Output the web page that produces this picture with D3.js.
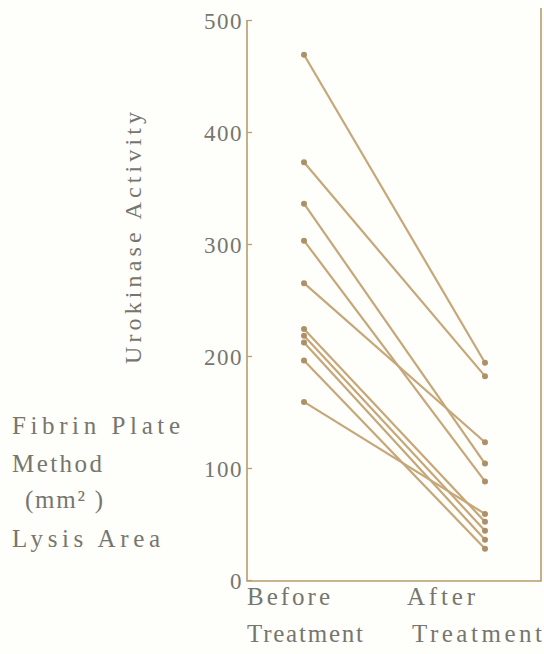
<!DOCTYPE html>
<html>
<head>
<meta charset="utf-8">
<script src="https://cdn.jsdelivr.net/npm/d3@7"></script>
<style>
  html, body { margin: 0; padding: 0; background: #fefefa; }
  svg { display: block; }
  text { font-family: "Liberation Serif", "DejaVu Serif", serif; fill: #76766e; }
</style>
</head>
<body>
<svg id="chart" width="544" height="654"></svg>
<script>
// Urokinase activity (fibrin plate lysis area, mm²) per patient, before and after treatment
const phases = ["Before", "After"];
const phaseLabels = [["Before", "Treatment"], ["After", "Treatment"]];
const beforeValues = [469, 373, 336, 303, 265, 224, 218, 212, 196, 159];
const afterValues  = [194, 182, 104,  88, 123,  52,  44,  36,  28,  59];
const yTicks = [0, 100, 200, 300, 400, 500];
const sideLabel = ["Fibrin Plate", "Method", "(mm\u00B2 )", "Lysis Area"];
const axisTitle = "Urokinase Activity";

const pairs = beforeValues.map((b, i) => ({ before: b, after: afterValues[i] }));

const svg = d3.select("#chart");
const lineColor = "#c6a77a";
const dotColor = "#ad9068";
const axisColor = "#b99b6c";

const x = d3.scalePoint().domain(phases).range([304, 485]);
const y = d3.scaleLinear().domain([0, 500]).range([580, 20]);

// frame: left axis, baseline and right border
const left = 247, right = 541, bottom = y(0) + 1;
svg.append("path")
  .attr("d", `M${left},${y(500)}V${bottom}H${right}V8`)
  .attr("fill", "none").attr("stroke", axisColor).attr("stroke-width", 1.6);

// y axis: ticks point into the plot, labels to the left
const yAxis = d3.axisRight(y).tickValues(yTicks).tickSize(5).tickSizeOuter(0).tickFormat(d3.format("d"));
const gy = svg.append("g").attr("transform", `translate(${left},0)`).call(yAxis);
gy.select(".domain").remove();
gy.selectAll(".tick line").attr("stroke", axisColor).attr("stroke-width", 1.2);
gy.selectAll(".tick text")
  .attr("x", -4).attr("dy", "0.36em")
  .attr("text-anchor", "end")
  .attr("fill", "#76766e")
  .style("font-size", "23px")
  .style("font-family", "\"Liberation Serif\", serif")
  .style("letter-spacing", "1.5px");

// rotated axis title
svg.append("text")
  .attr("transform", `translate(141,238) rotate(-90)`)
  .attr("text-anchor", "middle")
  .style("font-size", "24px")
  .attr("textLength", 252)
  .attr("lengthAdjust", "spacing")
  .text(axisTitle);

// side label block
const sideX = [12, 12, 25, 12];
const sideY = [434, 472, 508, 547];
const sideW = [168, 90, 78, 148];
svg.selectAll("text.side").data(sideLabel).join("text")
  .attr("class", "side")
  .attr("x", (d, i) => sideX[i])
  .attr("y", (d, i) => sideY[i])
  .attr("textLength", (d, i) => sideW[i])
  .attr("lengthAdjust", "spacing")
  .style("font-size", "25px")
  .text(d => d);

// category labels under the baseline
const catX = [[247, 247], [407, 412]];
const catW = [[83, 116], [68, 130]];
phaseLabels.forEach((lines, i) => {
  lines.forEach((t, j) => {
    svg.append("text")
      .attr("x", catX[i][j]).attr("y", j === 0 ? 605 : 642)
      .attr("textLength", catW[i][j]).attr("lengthAdjust", "spacing")
      .style("font-size", "25px").text(t);
  });
});

// paired lines
const g = svg.append("g");
g.selectAll("line.pair").data(pairs).join("line")
  .attr("class", "pair")
  .attr("x1", x("Before")).attr("y1", d => y(d.before))
  .attr("x2", x("After")).attr("y2", d => y(d.after))
  .attr("stroke", lineColor).attr("stroke-width", 2.2);

// end points
const pts = pairs.flatMap(d => [
  { p: "Before", v: d.before }, { p: "After", v: d.after }
]);
g.selectAll("circle").data(pts).join("circle")
  .attr("cx", d => x(d.p)).attr("cy", d => y(d.v))
  .attr("r", 3).attr("fill", dotColor);
</script>
</body>
</html>
